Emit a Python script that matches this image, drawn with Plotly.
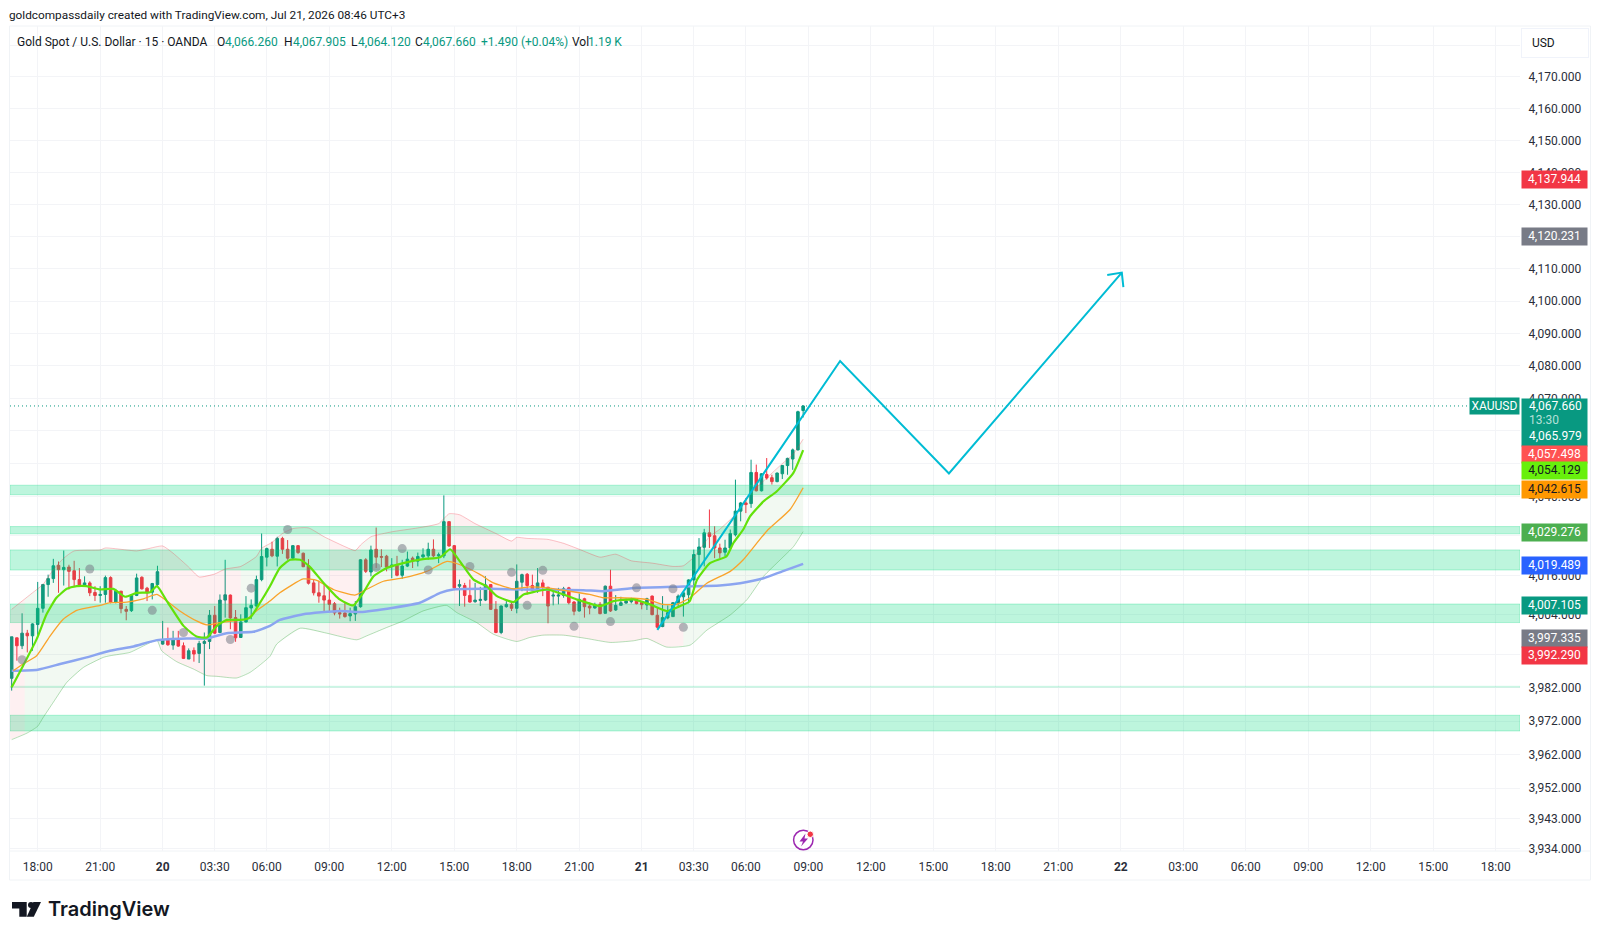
import math
import numpy as np
import plotly.graph_objects as go

# ---- candles: 15-minute XAUUSD bars, bar 0 is the 18:00 bar ----
bars = list(range(-5, 148))
opens = [
    3984.9, 3997.1, 3994.7, 3998.5, 3997.7, 4001.1, 4006.0, 4013.2, 4015.0, 4019.0,
    4017.7, 4018.5, 4017.4, 4014.7, 4013.1, 4013.7, 4010.8, 4009.9, 4010.2, 4015.3,
    4007.9, 4011.2, 4005.7, 4005.3, 4009.9, 4015.4, 4012.1, 4010.9, 4013.2, 3995.2,
    3996.4, 3994.9, 3996.7, 3994.7, 3990.7, 3993.3, 3992.4, 3995.4, 3996.0, 4003.9,
    3998.7, 4008.5, 4010.0, 4003.2, 3997.2, 4001.9, 4006.1, 4006.7, 4014.7, 4021.5,
    4023.9, 4021.8, 4027.2, 4023.9, 4021.2, 4025.0, 4022.7, 4018.9, 4013.7, 4010.7,
    4009.8, 4008.5, 4007.4, 4004.7, 4004.6, 4003.7, 4004.3, 4006.5, 4020.7, 4017.0,
    4023.9, 4021.7, 4021.8, 4018.7, 4019.0, 4016.0, 4018.8, 4021.2, 4020.3, 4021.6,
    4021.9, 4023.9, 4021.9, 4021.9, 4032.3, 4025.0, 4012.7, 4012.9, 4009.9, 4008.0,
    4008.4, 4008.5, 4013.2, 4005.7, 3998.7, 4006.5, 4007.2, 4006.0, 4013.9, 4016.3,
    4012.9, 4011.5, 4013.7, 4012.4, 4009.7, 4009.7, 4009.9, 4012.2, 4007.9, 4005.2,
    4008.9, 4006.7, 4006.1, 4007.2, 4004.5, 4012.7, 4005.5, 4006.9, 4007.6, 4008.0,
    4008.7, 4007.8, 4007.0, 4009.7, 4003.9, 4000.5, 4003.1, 4003.5, 4007.6, 4009.5,
    4010.1, 4014.6, 4022.3, 4024.5, 4028.9, 4028.0, 4024.3, 4023.0, 4024.3, 4028.3,
    4035.5, 4038.0, 4037.8, 4047.3, 4041.7, 4046.7, 4045.7, 4044.5, 4046.9, 4049.4,
    4051.4, 4054.2, 4066.26,
]
highs = [
    3997.4, 3997.1, 4004.5, 3999.5, 4001.5, 4014.0, 4013.4, 4016.2, 4021.0, 4020.2,
    4023.5, 4019.2, 4020.4, 4018.2, 4015.7, 4014.2, 4012.7, 4012.7, 4015.9, 4015.7,
    4011.9, 4011.2, 4006.7, 4010.2, 4016.5, 4015.7, 4012.5, 4013.7, 4018.9, 4002.2,
    4000.2, 3999.2, 3999.2, 3995.7, 3993.9, 3994.2, 3996.2, 3998.7, 4005.5, 4006.7,
    4010.2, 4020.7, 4010.2, 4005.5, 4004.2, 4009.7, 4008.7, 4015.9, 4028.7, 4024.4,
    4026.2, 4027.7, 4027.7, 4026.7, 4025.2, 4025.2, 4022.9, 4020.9, 4014.7, 4014.4,
    4013.2, 4011.5, 4007.9, 4006.2, 4007.7, 4006.2, 4008.2, 4020.9, 4021.2, 4025.0,
    4030.5, 4023.9, 4022.2, 4021.2, 4021.9, 4020.7, 4023.2, 4021.7, 4022.9, 4024.2,
    4025.9, 4026.9, 4022.9, 4040.3, 4032.3, 4025.2, 4014.7, 4013.7, 4014.7, 4013.7,
    4012.5, 4015.7, 4013.2, 4008.2, 4006.9, 4008.2, 4007.9, 4019.3, 4016.5, 4016.7,
    4016.2, 4018.2, 4014.7, 4012.4, 4011.9, 4012.2, 4012.5, 4012.5, 4008.2, 4010.5,
    4009.2, 4007.7, 4007.7, 4007.9, 4012.9, 4017.7, 4010.0, 4009.5, 4009.0, 4009.2,
    4008.9, 4008.2, 4009.2, 4009.9, 4006.2, 4009.7, 4006.9, 4007.9, 4010.2, 4011.1,
    4014.8, 4023.8, 4027.3, 4030.1, 4036.0, 4030.9, 4025.6, 4026.8, 4029.9, 4045.1,
    4038.3, 4039.5, 4051.2, 4049.7, 4047.1, 4051.7, 4046.6, 4047.3, 4049.6, 4051.8,
    4054.6, 4066.2, 4067.905,
]
lows = [
    3981.2, 3990.2, 3993.7, 3992.7, 3993.2, 3998.0, 4004.7, 4009.5, 4013.7, 4010.7,
    4012.9, 4011.7, 4012.7, 4012.7, 4012.5, 4009.7, 4008.2, 4007.7, 4007.7, 4007.5,
    4007.5, 4004.5, 4002.4, 4004.9, 4009.7, 4011.7, 4008.2, 4008.7, 4012.7, 3995.0,
    3994.7, 3993.5, 3994.4, 3990.7, 3990.7, 3989.9, 3989.5, 3982.7, 3993.7, 3998.2,
    3998.5, 4003.2, 3999.7, 3995.9, 3997.1, 4001.7, 4002.7, 4006.2, 4014.2, 4018.7,
    4021.5, 4018.7, 4022.5, 4020.7, 4020.9, 4022.5, 4018.5, 4013.2, 4009.9, 4007.7,
    4005.2, 4004.9, 4003.9, 4002.9, 4003.2, 4002.1, 4002.2, 4006.2, 4016.7, 4015.7,
    4018.2, 4018.5, 4017.2, 4015.1, 4015.7, 4014.9, 4018.5, 4018.2, 4018.7, 4021.2,
    4020.7, 4021.5, 4019.7, 4021.2, 4024.7, 4011.5, 4006.7, 4006.5, 4007.7, 4007.7,
    4006.7, 4008.2, 4005.5, 3998.5, 3998.2, 4006.2, 4005.2, 4004.5, 4011.2, 4010.2,
    4011.2, 4010.7, 4009.7, 4001.5, 4006.9, 4007.2, 4009.2, 4007.2, 4003.9, 4005.0,
    4003.2, 4004.2, 4005.9, 4004.2, 4004.4, 4004.9, 4005.2, 4006.7, 4007.4, 4007.5,
    4007.2, 4005.7, 4005.5, 4003.9, 3999.9, 4000.3, 4002.7, 4003.5, 4006.2, 4003.5,
    4007.5, 4011.6, 4018.2, 4018.7, 4024.3, 4021.2, 4021.2, 4021.8, 4024.0, 4027.8,
    4032.4, 4034.9, 4036.5, 4041.5, 4041.5, 4045.1, 4043.6, 4044.3, 4045.3, 4046.6,
    4048.1, 4054.0, 4064.12,
]
closes = [
    3997.4, 3994.7, 3998.5, 3997.7, 4001.3, 4006.0, 4013.2, 4015.0, 4018.9, 4017.7,
    4018.4, 4017.2, 4014.7, 4013.1, 4013.7, 4010.7, 4009.9, 4010.2, 4015.3, 4007.9,
    4011.2, 4005.9, 4005.1, 4009.9, 4015.2, 4011.9, 4010.7, 4013.5, 4017.1, 3996.4,
    3995.0, 3996.7, 3994.6, 3990.9, 3993.2, 3992.2, 3995.4, 3996.0, 4003.9, 3998.5,
    4008.5, 4010.1, 4003.1, 3997.1, 4001.9, 4006.2, 4006.9, 4014.7, 4021.7, 4024.1,
    4021.9, 4027.2, 4023.9, 4021.2, 4025.0, 4022.9, 4018.6, 4013.6, 4010.7, 4009.7,
    4008.5, 4007.2, 4004.6, 4004.3, 4003.5, 4004.4, 4006.5, 4020.7, 4017.2, 4023.7,
    4021.5, 4021.5, 4018.5, 4019.1, 4016.0, 4018.8, 4020.9, 4020.7, 4021.7, 4022.2,
    4023.9, 4021.9, 4022.2, 4032.3, 4024.9, 4012.2, 4013.2, 4009.9, 4007.9, 4008.5,
    4008.7, 4013.1, 4005.7, 3998.7, 4006.7, 4007.2, 4006.0, 4014.2, 4016.2, 4012.9,
    4011.5, 4013.7, 4012.4, 4006.7, 4010.0, 4010.0, 4011.9, 4007.7, 4005.1, 4008.7,
    4006.5, 4006.1, 4007.1, 4004.4, 4012.7, 4005.2, 4006.9, 4007.7, 4008.2, 4008.5,
    4007.4, 4007.1, 4008.9, 4004.1, 4000.3, 4003.2, 4004.7, 4007.7, 4009.7, 4010.7,
    4014.6, 4022.3, 4024.6, 4028.9, 4027.8, 4024.3, 4022.8, 4024.3, 4028.7, 4035.5,
    4038.0, 4037.5, 4047.3, 4041.7, 4046.9, 4045.6, 4044.5, 4047.1, 4049.4, 4051.6,
    4054.2, 4065.9, 4067.66,
]

# ---- indicators, sampled along the bars ----
upper_x = [-5, -3, -1, 1, 3, 5, 7, 12, 13, 17, 19, 21, 24, 26, 29, 31, 34, 36, 39, 42,
           43, 45, 47, 49, 52, 55, 59, 61, 62, 64, 68, 73, 77, 79, 81, 84, 88, 91, 92,
           94, 98, 101, 104, 108, 111, 114, 118, 122, 124, 126, 129, 131, 134, 137,
           140, 143, 145, 147]
upper_y = [4005.7, 4008.2, 4010.7, 4013.2, 4017.7, 4021.2, 4023.4, 4023.7, 4024.3, 4023.7,
           4023.4, 4024.0, 4024.9, 4022.7, 4018.5, 4015.5, 4016.4, 4017.9, 4018.7, 4021.7,
           4024.2, 4026.0, 4028.7, 4030.2, 4030.4, 4027.7, 4024.7, 4023.5, 4025.2, 4027.7,
           4029.2, 4030.4, 4031.7, 4034.7, 4034.4, 4031.7, 4028.7, 4026.4, 4027.5, 4027.2,
           4026.9, 4025.7, 4023.9, 4021.5, 4022.4, 4020.4, 4019.7, 4018.7, 4018.9, 4021.5,
           4027.7, 4030.0, 4034.5, 4041.0, 4045.6, 4050.0, 4052.7, 4057.498]
lower_x = [-5, -2, 0, 1, 3, 5.6, 8.8, 12.6, 13.9, 17.7, 21, 22.9, 23.8, 26.7, 29.9, 32.5,
           34.4, 38.2, 40.8, 44.6, 45.9, 50.4, 55.5, 61.3, 63.2, 67, 70.2, 74, 78.5, 80.5,
           84.3, 87.5, 92, 94.5, 97, 101, 105.4, 110, 114.4, 117, 120.8, 125.3, 128.5,
           133, 136.2, 139.4, 142.6, 145.2, 147]
lower_y = [3966.5, 3968.5, 3970.5, 3973.0, 3977.7, 3983.7, 3988.2, 3991.2, 3991.7, 3992.7,
           3995.2, 3996.4, 3993.2, 3989.9, 3987.7, 3985.7, 3985.5, 3985.0, 3986.7, 3991.5,
           3995.2, 4000.0, 3998.5, 3996.5, 3997.7, 4000.2, 4002.2, 4005.2, 4006.9, 4004.7,
           4001.7, 3998.2, 3996.0, 3997.2, 3997.9, 3997.9, 3996.9, 3995.7, 3996.2, 3996.9,
           3994.3, 3994.9, 3999.4, 4004.0, 4008.6, 4015.7, 4020.7, 4024.8, 4029.276]
fast_x = [-5, -2.8, -0.2, 1.7, 3.6, 5.6, 7.5, 9.4, 12, 14.5, 16.8, 19, 21.6, 22.9, 24.8, 28,
          30.5, 32.5, 34.4, 36.3, 38.9, 40.8, 42.7, 44.6, 46.5, 48.5, 50.4, 52.3, 54.9, 58,
          60.6, 62.5, 64.5, 67, 70.2, 74, 77.3, 79.2, 81.1, 83.7, 86.2, 88.2, 91.4, 93.3,
          94.6, 97.8, 101, 103.5, 108, 110.6, 114.4, 117.6, 120.8, 123.4, 125.2, 126.6,
          129.1, 132.3, 133.6, 135.5, 136.8, 139.4, 141.9, 145.1, 147]
fast_y = [3982.2, 3988.7, 3996.7, 4004.2, 4009.2, 4011.9, 4012.7, 4012.7, 4011.7, 4011.9,
          4009.5, 4010.7, 4010.9, 4012.7, 4008.2, 4000.7, 3997.5, 3997.2, 4000.7, 4002.5,
          4002.5, 4003.2, 4007.7, 4012.7, 4018.2, 4020.7, 4020.7, 4018.5, 4013.7, 4008.7,
          4006.9, 4010.7, 4015.7, 4018.2, 4019.7, 4020.9, 4021.5, 4023.9, 4020.2, 4014.7,
          4012.7, 4009.7, 4007.9, 4010.2, 4010.7, 4011.7, 4010.2, 4008.7, 4006.7, 4008.2,
          4008.7, 4007.2, 4005.2, 4006.7, 4008.1, 4014.6, 4019.7, 4021.8, 4025.8, 4029.9,
          4033.9, 4038.5, 4041.5, 4047.1, 4054.129]
slow_x = [-4.7, -2.8, -0.2, 2.4, 4.9, 7.5, 12, 13.9, 17.1, 20.3, 22.9, 24.8, 27.3, 30.5, 32.5,
          35, 37.6, 40.1, 42, 44.6, 46.5, 51, 53.6, 56.8, 60.9, 62.5, 66.4, 70.2, 74.7, 78.6,
          81.1, 85, 87.5, 91.4, 94.5, 97.8, 106, 108.6, 111.7, 117, 120, 122.7, 125.3, 128.5,
          133, 135.5, 140, 144.5, 147]
slow_y = [3987.2, 3989.2, 3991.7, 3997.7, 4002.7, 4005.4, 4006.9, 4007.7, 4007.9, 4008.9,
          4010.2, 4008.2, 4005.2, 4002.2, 4001.0, 4001.7, 4002.2, 4002.7, 4005.2, 4008.2,
          4010.7, 4014.9, 4014.5, 4011.7, 4010.0, 4011.2, 4014.2, 4015.2, 4017.2, 4020.2,
          4019.2, 4016.2, 4013.7, 4011.9, 4012.5, 4012.2, 4010.2, 4009.2, 4009.2, 4008.7,
          4007.2, 4007.2, 4009.2, 4013.6, 4017.2, 4020.7, 4029.4, 4036.0, 4042.615]
long_x = [-5, 0, 4.3, 9.4, 13.9, 18.4, 22.9, 28.6, 32.5, 36.3, 41.4, 44.6, 46.5, 51, 58, 61.9,
          68.3, 73.4, 77.3, 79.8, 86.9, 93.3, 104.8, 108.6, 115, 122, 124, 131, 134.9, 139.4,
          143, 147]
long_y = [3987.2, 3987.5, 3989.2, 3991.2, 3993.2, 3994.5, 3996.4, 3996.9, 3996.9, 3998.5,
          3998.9, 4000.7, 4002.5, 4004.2, 4005.2, 4004.9, 4006.2, 4007.7, 4010.7, 4011.7,
          4011.9, 4011.7, 4011.5, 4011.2, 4012.2, 4012.5, 4012.6, 4012.9, 4013.6, 4015.1,
          4017.2, 4019.489]

# Band shading: each span runs between two bars and carries a trend colour
span_edges = [-5.3, -2.5, 23.5, 39, 56, 62, 80, 124, 147]
span_is_up = [False, True, False, True, False, True, False, True]

# Pivot dots
dot_x = [-3, 10, 22, 28, 37, 41, 48, 65, 70, 75, 83, 91, 94, 97, 103, 110, 115, 122, 124]
dot_y = [3990.5, 4017.9, 4005.4, 3998.7, 3996.6, 4012.1, 4029.9, 4018.4, 4024.1, 4017.6,
         4018.7, 4016.9, 4006.9, 4017.5, 4000.6, 4002.0, 4012.2, 4011.9, 4000.3]

# Support / resistance zones as (low, high) price pairs, with their strength
zone_lows = [4040.5, 4028.6, 4017.6, 4001.7, 3982.2, 3969.1]
zone_highs = [4043.4, 4030.8, 4023.7, 4007.3, 3982.5, 3973.8]
zone_opacity = [1, 1, 1, 1, 0.5, 1]

# Forecast path with its arrow head
path_x = [119, 154.1, 175, 208.2]
path_y = [3999.5, 4081.5, 4047.0, 4108.8]
head_x = [205.4, 208.2, 208.5]
head_y = [4108.1, 4108.8, 4104.3]

last_price = 4067.66

# Axis ticks; ticks covered by a price tag keep their grid line but carry no label
price_ticks = [4180, 4170, 4160, 4150, 4140, 4130, 4120, 4110, 4100, 4090, 4080, 4070, 4060,
               4050, 4040, 4028, 4016, 4004, 3992, 3982, 3972, 3962, 3952, 3943, 3934]
covered_ticks = [4180, 4120, 4060, 4050, 4028, 3992]
time_ticks = [0, 12, 24, 34, 44, 56, 68, 80, 92, 104, 116, 126, 136, 148, 160, 172, 184, 196,
              208, 220, 232, 244, 256, 268, 280]
time_labels = ["18:00", "21:00", "<b>20</b>", "03:30", "06:00", "09:00", "12:00", "15:00",
               "18:00", "21:00", "<b>21</b>", "03:30", "06:00", "09:00", "12:00", "15:00",
               "18:00", "21:00", "<b>22</b>", "03:00", "06:00", "09:00", "12:00", "15:00", "18:00"]

# Price-scale tags: value, background, text colour, shift applied by label stacking
tags = [
    (4137.944, "#F23645", "#ffffff", -1),
    (4120.231, "#787B86", "#ffffff", -1),
    (4057.498, "#FF5252", "#ffffff", -15),
    (4054.129, "#68F00C", "#131722", -20),
    (4042.615, "#FF9800", "#131722", -2),
    (4029.276, "#4CAF50", "#ffffff", -1),
    (4019.489, "#2962FF", "#ffffff", -1.5),
    (4007.105, "#089981", "#ffffff", -1),
    (3997.335, "#787B86", "#ffffff", -1),
    (3992.290, "#F23645", "#ffffff", -2),
]

# Legend row: text, left edge in px, colour
TEAL = "#089981"
INK = "#131722"
legend_row = [
    ("Gold Spot / U.S. Dollar · 15 · OANDA", 17, INK),
    ("O", 217, INK), ("4,066.260", 225, TEAL),
    ("H", 284, INK), ("4,067.905", 293, TEAL),
    ("L", 351, INK), ("4,064.120", 358, TEAL),
    ("C", 415, INK), ("4,067.660", 423, TEAL),
    ("+1.490 (+0.04%)", 481, TEAL),
    ("Vol", 572, INK), ("1.19 K", 588, TEAL),
]

# ---- layout geometry in page pixels ----
W, H = 1600, 939
PLOT_L, PLOT_R, PLOT_T, PLOT_B = 10, 1520, 26, 851
X_RANGE = [-5.32, 284.67]
Y_RANGE = [math.log10(3933.3), math.log10(4186.0)]
FONT = "Roboto"


def px(x):
    return (x - PLOT_L) / (PLOT_R - PLOT_L)


def py(y):
    return (PLOT_B - y) / (PLOT_B - PLOT_T)


fig = go.Figure()

# Zones
for lo, hi, strength in zip(zone_lows, zone_highs, zone_opacity):
    fig.add_trace(go.Scatter(
        x=[X_RANGE[0], X_RANGE[1], X_RANGE[1], X_RANGE[0], X_RANGE[0]],
        y=[lo, lo, hi, hi, lo], mode="lines", fill="toself", opacity=strength,
        fillcolor="rgba(0,217,124,0.26)",
        line=dict(color="rgba(0,217,124,0.28)", width=1), hoverinfo="skip"))

# Band shading, one polygon per trend span
for a, b, up in zip(span_edges[:-1], span_edges[1:], span_is_up):
    ux = [a] + [v for v in upper_x if a < v < b] + [b]
    lx = [a] + [v for v in lower_x if a < v < b] + [b]
    uy = np.interp(ux, upper_x, upper_y).tolist()
    ly = np.interp(lx, lower_x, lower_y).tolist()
    fig.add_trace(go.Scatter(
        x=ux + lx[::-1], y=uy + ly[::-1], mode="lines", fill="toself",
        fillcolor="rgba(76,175,80,0.075)" if up else "rgba(242,54,69,0.075)",
        line=dict(width=0), hoverinfo="skip"))

# Band edges and moving averages
fig.add_trace(go.Scatter(x=upper_x, y=upper_y, mode="lines",
                         line=dict(color="rgba(242,54,69,0.3)", width=1, shape="spline", smoothing=0.5)))
fig.add_trace(go.Scatter(x=lower_x, y=lower_y, mode="lines",
                         line=dict(color="rgba(76,175,80,0.4)", width=1, shape="spline", smoothing=0.5)))
fig.add_trace(go.Scatter(x=long_x, y=long_y, mode="lines",
                         line=dict(color="#8BA5F0", width=2.5, shape="spline", smoothing=0.5)))
fig.add_trace(go.Scatter(x=slow_x, y=slow_y, mode="lines",
                         line=dict(color="#F9A32B", width=1.3, shape="spline", smoothing=0.5)))
fig.add_trace(go.Scatter(x=fast_x, y=fast_y, mode="lines",
                         line=dict(color="#62E20A", width=2.2, shape="spline", smoothing=0.5)))

# Last-price line
fig.add_trace(go.Scatter(x=X_RANGE, y=[last_price, last_price], mode="lines",
                         line=dict(color=TEAL, width=1, dash="1px,3px")))

# Candles
fig.add_trace(go.Candlestick(
    x=bars, open=opens, high=highs, low=lows, close=closes, whiskerwidth=0,
    increasing=dict(line=dict(color=TEAL, width=1), fillcolor=TEAL),
    decreasing=dict(line=dict(color="#F23645", width=1), fillcolor="#F23645")))

# Pivot dots
fig.add_trace(go.Scatter(x=dot_x, y=dot_y, mode="markers",
                         marker=dict(color="rgba(120,123,134,0.55)", size=9)))

# Forecast path
fig.add_trace(go.Scatter(x=path_x, y=path_y, mode="lines", line=dict(color="#00BCD4", width=2)))
fig.add_trace(go.Scatter(x=head_x, y=head_y, mode="lines", line=dict(color="#00BCD4", width=2)))

annotations = []


def page_text(text, x, y, size=12, color=INK, anchor="left", family=FONT, weight=None):
    font = dict(family=family, size=size, color=color)
    if weight:
        font["weight"] = weight
    annotations.append(dict(text=text, xref="paper", yref="paper", x=px(x), y=py(y),
                            xanchor=anchor, yanchor="middle", showarrow=False, font=font,
                            borderpad=0, borderwidth=0))


page_text("goldcompassdaily created with TradingView.com, Jul 21, 2026 08:46 UTC+3", 9, 14.5, size=11.8)
for label, left, color in legend_row:
    page_text(label, left, 42, color=color)

# Currency button
annotations.append(dict(text="&nbsp;&nbsp;&nbsp;USD", xref="paper", yref="paper", x=px(1555), y=py(43),
                        xanchor="center", yanchor="middle", showarrow=False, width=64, height=26,
                        bgcolor="#ffffff", bordercolor="#f0f3fa", borderwidth=1, align="left",
                        font=dict(family=FONT, size=12, color=INK)))

# Symbol tag and the stacked last-price tag
annotations.append(dict(text="XAUUSD", xref="paper", yref="y", x=1, y=math.log10(last_price),
                        xanchor="right", yanchor="middle", showarrow=False, width=49, height=16,
                        bgcolor=TEAL, borderpad=0,
                        font=dict(family=FONT, size=12, color="#ffffff")))
annotations.append(dict(text="", xref="paper", yref="y", x=1, y=math.log10(last_price), xanchor="left",
                        yanchor="top", xshift=1, yshift=8, showarrow=False, width=65, height=47,
                        bgcolor=TEAL, borderpad=0))
for line, drop, tone in (("4,067.660", 0, "#ffffff"), ("13:30", -14, "#b5e0d8"), ("4,065.979", -30, "#ffffff")):
    annotations.append(dict(text=line, xref="paper", yref="y", x=1, y=math.log10(last_price),
                            xanchor="left", yanchor="middle", xshift=8, yshift=drop, showarrow=False,
                            borderpad=0, font=dict(family=FONT, size=12, color=tone)))

for value, bg, fg, shift in tags:
    annotations.append(dict(text=f"{value:,.3f}", xref="paper", yref="y", x=1, y=math.log10(value),
                            xanchor="left", yanchor="middle", xshift=1, yshift=shift, showarrow=False,
                            width=65, height=16.5, bgcolor=bg, borderpad=0,
                            font=dict(family=FONT, size=12, color=fg)))

# Wordmark
page_text("TradingView", 48, 909, size=20, color="#131722", family="Inter", weight=600)

shapes = [
    # Chart frame and the time-scale divider
    dict(type="rect", xref="paper", yref="paper", x0=px(9.5), x1=px(1590.5), y0=py(880), y1=py(26),
         line=dict(color="#f0f3f6", width=1), layer="below"),
    dict(type="line", xref="paper", yref="paper", x0=px(9.5), x1=px(1590.5), y0=py(851), y1=py(851),
         line=dict(color="#f0f3f6", width=1), layer="below"),
    # Logo
    dict(type="path", xref="paper", yref="paper", fillcolor="#131722", line=dict(width=0),
         path=f"M {px(12)} {py(902)} L {px(26.7)} {py(902)} L {px(26.7)} {py(916.7)} L {px(19.3)} {py(916.7)} "
              f"L {px(19.3)} {py(908.5)} L {px(12)} {py(908.5)} Z"),
    dict(type="circle", xref="paper", yref="paper", fillcolor="#131722", line=dict(width=0),
         x0=px(28), x1=px(34), y0=py(908), y1=py(902)),
    dict(type="path", xref="paper", yref="paper", fillcolor="#131722", line=dict(width=0),
         path=f"M {px(33.8)} {py(916.7)} L {px(26.8)} {py(916.7)} L {px(33.4)} {py(902)} L {px(41)} {py(902)} Z"),
    # Event badge on the time scale
    dict(type="circle", xref="paper", yref="paper", fillcolor="#ffffff", line=dict(color="#9C27B0", width=1.5),
         x0=px(793.6), x1=px(813), y0=py(849.7), y1=py(830.3)),
    dict(type="path", xref="paper", yref="paper", fillcolor="#9C27B0", line=dict(width=0),
         path=f"M {px(805.5)} {py(833.5)} L {px(799.5)} {py(841.5)} L {px(803)} {py(841.5)} L {px(801)} {py(846.5)} "
              f"L {px(808)} {py(838.5)} L {px(804.5)} {py(838.5)} Z"),
    dict(type="circle", xref="paper", yref="paper", fillcolor="#F23645", line=dict(color="#ffffff", width=1),
         x0=px(807), x1=px(813.5), y0=py(837.5), y1=py(831)),
]

fig.update_layout(
    width=W, height=H, autosize=False, showlegend=False,
    margin=dict(l=PLOT_L, r=W - PLOT_R, t=PLOT_T, b=H - PLOT_B, pad=0),
    paper_bgcolor="#ffffff", plot_bgcolor="#ffffff",
    font=dict(family=FONT, size=12, color=INK),
    annotations=annotations, shapes=shapes,
    xaxis=dict(range=X_RANGE, rangeslider=dict(visible=False), tickmode="array",
               tickvals=time_ticks, ticktext=time_labels, showgrid=True, gridcolor="#f3f4f7",
               gridwidth=1, zeroline=False, showline=False, ticks="outside", ticklen=5,
               tickcolor="rgba(0,0,0,0)", tickangle=0, tickfont=dict(family=FONT, size=12, color="#2a2e39")),
    yaxis=dict(type="log", range=Y_RANGE, side="right", tickmode="array", tickvals=price_ticks,
               ticktext=["" if v in covered_ticks else f"{v:,.3f}" for v in price_ticks],
               showgrid=True, gridcolor="#f3f4f7",
               gridwidth=1, zeroline=False, showline=False, ticks="outside", ticklen=5,
               tickcolor="rgba(0,0,0,0)", tickfont=dict(family=FONT, size=12, color="#2a2e39")),
)

fig.write_html("out.html")
